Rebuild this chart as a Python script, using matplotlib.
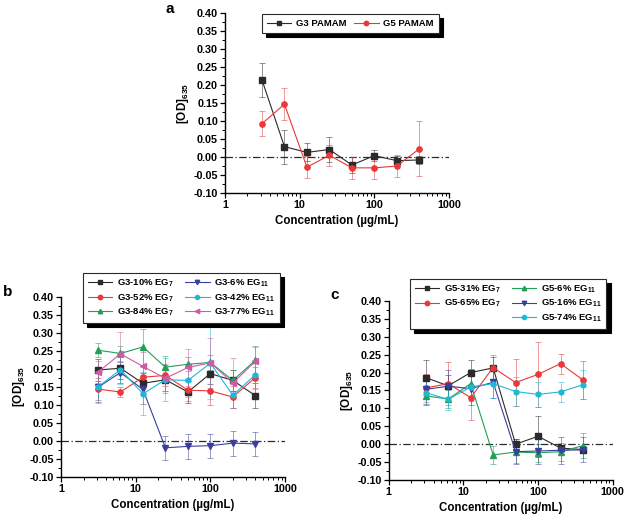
import matplotlib
matplotlib.use("Agg")
import matplotlib.pyplot as plt
import numpy as np
from matplotlib.ticker import MultipleLocator, FixedLocator, NullFormatter
from matplotlib.lines import Line2D

plt.rcParams['font.family'] = ['Liberation Sans', 'DejaVu Sans']
plt.rcParams['font.weight'] = 'bold'
plt.rcParams['mathtext.fontset'] = 'custom'
plt.rcParams['mathtext.rm'] = 'Liberation Sans:bold'
plt.rcParams['mathtext.bf'] = 'Liberation Sans:bold'
plt.rcParams['mathtext.default'] = 'bf'

# concentrations (ug/mL)
conc = [3.125, 6.25, 12.5, 25, 50, 100, 200, 400]

# panel a
g3_pamam = [0.215, 0.029, 0.013, 0.021, -0.022, 0.004, -0.010, -0.008]
g3_pamam_err = [0.047, 0.047, 0.025, 0.034, 0.022, 0.016, 0.013, 0.012]
g5_pamam = [0.093, 0.147, -0.028, 0.005, -0.030, -0.030, -0.025, 0.023]
g5_pamam_err = [0.034, 0.044, 0.030, 0.030, 0.030, 0.030, 0.030, 0.077]

# panel b
g3_10 = [0.197, 0.202, 0.160, 0.170, 0.136, 0.187, 0.168, 0.126]
g3_10_err = [0.030, 0.030, 0.030, 0.030, 0.030, 0.030, 0.030, 0.035]
g3_52 = [0.144, 0.136, 0.177, 0.182, 0.141, 0.139, 0.122, 0.176]
g3_52_err = [0.030, 0.015, 0.030, 0.030, 0.030, 0.040, 0.030, 0.030]
g3_84 = [0.252, 0.243, 0.261, 0.205, 0.213, 0.218, 0.168, 0.224]
g3_84_err = [0.020, 0.020, 0.050, 0.030, 0.020, 0.020, 0.030, 0.040]
g3_6 = [0.149, 0.190, 0.143, -0.019, -0.015, -0.013, -0.006, -0.008]
g3_6_err = [0.040, 0.030, 0.040, 0.033, 0.035, 0.033, 0.035, 0.033]
g3_42 = [0.150, 0.198, 0.131, 0.170, 0.168, 0.216, 0.127, 0.184]
g3_42_err = [0.045, 0.040, 0.060, 0.060, 0.045, 0.100, 0.035, 0.040]
g3_77 = [0.191, 0.242, 0.207, 0.174, 0.204, 0.217, 0.161, 0.221]
g3_77_err = [0.030, 0.060, 0.040, 0.040, 0.050, 0.070, 0.070, 0.040]

# panel c
g5_31 = [0.186, 0.163, 0.200, 0.213, 0.000, 0.022, -0.011, -0.015]
g5_31_err = [0.050, 0.030, 0.035, 0.030, 0.015, 0.058, 0.010, 0.010]
g5_65 = [0.157, 0.169, 0.130, 0.214, 0.172, 0.195, 0.225, 0.179]
g5_65_err = [0.040, 0.060, 0.063, 0.035, 0.065, 0.090, 0.028, 0.052]
g5_6 = [0.135, 0.126, 0.169, -0.030, -0.022, -0.024, -0.021, -0.004]
g5_6_err = [0.025, 0.025, 0.040, 0.025, 0.030, 0.025, 0.025, 0.034]
g5_16 = [0.153, 0.162, 0.155, 0.173, -0.021, -0.019, -0.017, -0.016]
g5_16_err = [0.040, 0.045, 0.045, 0.045, 0.035, 0.035, 0.038, 0.035]
g5_74 = [0.144, 0.125, 0.160, 0.169, 0.147, 0.139, 0.146, 0.166]
g5_74_err = [0.035, 0.030, 0.040, 0.040, 0.040, 0.035, 0.028, 0.040]

BLACK = '#2b2b2b'
RED = '#e8393a'
GREEN = '#22a05a'
BLUE = '#3a3f9e'
CYAN = '#1fb8d4'
PINK = '#d15aa6'

fig = plt.figure(figsize=(6.24, 5.16), dpi=100)


def style_axes(ax):
    ax.set_xscale('log')
    ax.set_xlim(1, 1000)
    ax.set_ylim(-0.10, 0.40)
    ax.spines['top'].set_visible(False)
    ax.spines['right'].set_visible(False)
    for s in ('left', 'bottom'):
        ax.spines[s].set_linewidth(1.0)
    ax.xaxis.set_major_locator(FixedLocator([1, 10, 100, 1000]))
    ax.set_xticklabels(['1', '10', '100', '1000'])
    ax.xaxis.set_minor_locator(FixedLocator(
        [m * 10 ** e for e in range(3) for m in range(2, 10)]))
    ax.xaxis.set_minor_formatter(NullFormatter())
    ax.yaxis.set_minor_locator(MultipleLocator(0.025))
    ax.set_yticks(np.arange(-0.10, 0.401, 0.05))
    ax.set_yticklabels(['%.2f' % v for v in np.arange(-0.10, 0.401, 0.05)])
    ax.tick_params(which='major', direction='out', length=3.5, width=0.9,
                   labelsize=7.8, pad=1.5)
    ax.tick_params(which='minor', direction='out', length=2, width=0.7)
    for t in ax.get_xticklabels() + ax.get_yticklabels():
        t.set_fontweight('bold')
    ax.axhline(0, color=BLACK, lw=0.9, ls=(0, (6, 2, 1, 2)), zorder=1)
    ax.set_xlabel(u'Concentration (\u00b5g/mL)', fontsize=8.3, fontweight='bold',
                  labelpad=4)
    ax.set_ylabel('[OD]$_{635}$', fontsize=8.5, fontweight='bold', labelpad=2)


def series(ax, y, err, color, marker, ms=3.8):
    line, caps, bars = ax.errorbar(conc, y, yerr=err, color=color, ecolor=color,
                                   elinewidth=0.6, capsize=2, capthick=0.6,
                                   lw=0.8, marker=marker, ms=ms,
                                   mec=color, mfc=color)
    for c in caps:
        c.set_alpha(0.6)
    for b in bars:
        b.set_alpha(0.6)
    return Line2D([], [], color=color, lw=0.8, marker=marker, ms=3.2,
                  mec=color, mfc=color)


def legend(ax, handles, labels, x, y, ncol, colsp=1.2):
    leg = ax.legend(handles, labels, loc='upper left', bbox_to_anchor=(x, y),
                    ncol=ncol, frameon=True, fancybox=False, fontsize=6.8,
                    handlelength=2.6, columnspacing=colsp, borderpad=0.5,
                    labelspacing=0.3, handletextpad=0.5, borderaxespad=0,
                    shadow={'color': 'black', 'alpha': 1, 'ox': 3, 'oy': -3})
    leg.get_frame().set_edgecolor(BLACK)
    leg.get_frame().set_linewidth(0.8)
    for t in leg.get_texts():
        t.set_fontweight('bold')
    return leg


# panel a
ax_a = fig.add_axes([0.3606, 0.626, 0.359, 0.348])
style_axes(ax_a)
ha = [series(ax_a, g3_pamam, g3_pamam_err, BLACK, 's'),
      series(ax_a, g5_pamam, g5_pamam_err, RED, 'o')]
legend(ax_a, ha, ['G3 PAMAM', 'G5 PAMAM'], 0.165, 0.995, 2, colsp=0.8)
fig.text(0.272, 0.982, 'a', fontsize=11, fontweight='bold', ha='center', va='center')

# panel b
ax_b = fig.add_axes([0.0978, 0.0756, 0.359, 0.349])
style_axes(ax_b)
hb = [series(ax_b, g3_10, g3_10_err, BLACK, 's'),
      series(ax_b, g3_52, g3_52_err, RED, 'o'),
      series(ax_b, g3_84, g3_84_err, GREEN, '^'),
      series(ax_b, g3_6, g3_6_err, BLUE, 'v'),
      series(ax_b, g3_42, g3_42_err, CYAN, 'h'),
      series(ax_b, g3_77, g3_77_err, PINK, '<')]
lb = ['G3-10% EG$_7$', 'G3-52% EG$_7$', 'G3-84% EG$_7$',
      'G3-6% EG$_{11}$', 'G3-42% EG$_{11}$', 'G3-77% EG$_{11}$']
legend(ax_b, hb, lb, 0.098, 1.133, 2)
fig.text(0.012, 0.434, 'b', fontsize=11, fontweight='bold', ha='center', va='center')

# panel c
ax_c = fig.add_axes([0.623, 0.0698, 0.359, 0.347])
style_axes(ax_c)
h31 = series(ax_c, g5_31, g5_31_err, BLACK, 's')
h65 = series(ax_c, g5_65, g5_65_err, RED, 'o')
h6 = series(ax_c, g5_6, g5_6_err, GREEN, '^')
h16 = series(ax_c, g5_16, g5_16_err, BLUE, 'v')
h74 = series(ax_c, g5_74, g5_74_err, CYAN, 'h')
blank = Line2D([], [], color='none')
hc = [h31, h65, blank, h6, h16, h74]
lc = ['G5-31% EG$_7$', 'G5-65% EG$_7$', ' ',
      'G5-6% EG$_{11}$', 'G5-16% EG$_{11}$', 'G5-74% EG$_{11}$']
legend(ax_c, hc, lc, 0.094, 1.123, 2)
fig.text(0.537, 0.428, 'c', fontsize=11, fontweight='bold', ha='center', va='center')

fig.savefig('out.png', dpi=100)
